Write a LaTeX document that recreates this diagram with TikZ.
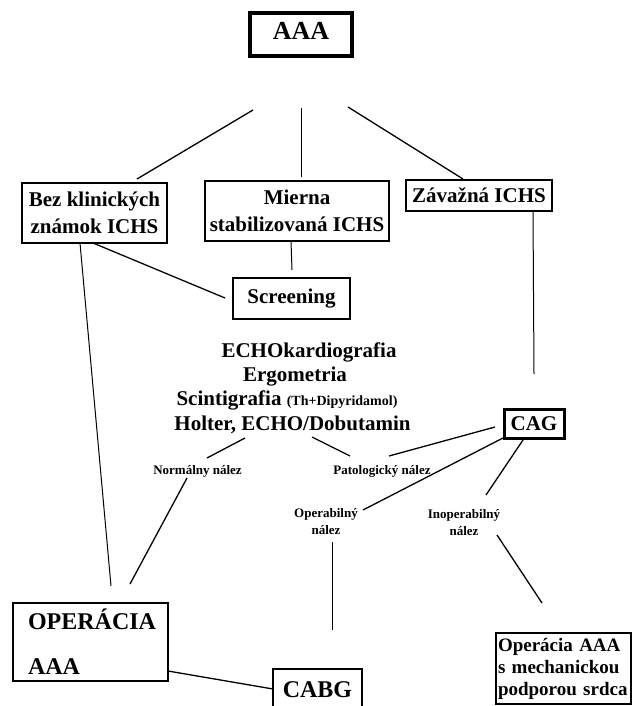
\documentclass[tikz,border=0pt]{standalone}
\usepackage{fontspec}
\setmainfont{Liberation Serif}
\begin{document}
\begin{tikzpicture}[x=1pt,y=-1pt,
  box/.style={draw, rectangle, line width=2pt, inner sep=0pt, align=center},
  big/.style={font=\bfseries\fontsize{21}{27.5}\selectfont},
  small/.style={font=\bfseries\fontsize{13}{17}\selectfont},
  conn/.style={line width=1.3pt},
  thinconn/.style={line width=1pt}]
\useasboundingbox (0,0) rectangle (633,706);
\clip (0,0) rectangle (633,706);
\fill[white] (0,0) rectangle (633,706);

% boxes
\node[box, line width=4pt, minimum width=102, minimum height=43, text depth=7pt,
      font=\bfseries\fontsize{26}{30}\selectfont] (aaa) at (301,34.5) {AAA};
\node[box, line width=2.5pt, minimum width=145, minimum height=60, big] (bez) at (94.5,213) {Bez klinických\\známok ICHS};
\node[box, minimum width=184, minimum height=60, big] (mierna) at (297,211) {Mierna\\stabilizovaná ICHS};
\node[box, line width=2.5pt, minimum width=146, minimum height=31, big] (zav) at (479,195.5) {Závažná ICHS};
\node[box, minimum width=117, minimum height=41, big] (scr) at (291.5,298.5) {Screening};
\node[box, line width=3pt, minimum width=60, minimum height=29, big] (cag) at (534,423.5) {CAG};
\node[box, line width=2.5pt, minimum width=155, minimum height=78, text width=125, align=left,
      font=\bfseries\fontsize{24}{45}\selectfont] (op) at (90.5,642) {OPERÁCIA\\AAA};
\node[box, line width=2.5pt, minimum width=89, minimum height=42,
      font=\bfseries\fontsize{24}{28}\selectfont] (cabg) at (317.5,690) {CABG};
\node[box, minimum width=135, minimum height=71, text width=131, align=left,
      font=\bfseries\fontsize{19}{22}\selectfont] (opm) at (563.5,668.5) {Operácia AAA\\s mechanickou\\podporou srdca};

% examination list
\node[big, anchor=base, inner sep=0pt] (e1) at (309,357) {ECHOkardiografia};
\node[big, anchor=base, inner sep=0pt] (e2) at (295,381) {Ergometria};
\node[big, anchor=base, inner sep=0pt] (e3) at (287,405) {Scintigrafia {\fontsize{14}{16}\selectfont (Th+Dipyridamol)}};
\node[big, anchor=base, inner sep=0pt] (e4) at (292.5,430) {Holter, ECHO/Dobutamin};

% small labels
\node[small, anchor=base, inner sep=0pt] (norm) at (197.5,474.5) {Normálny nález};
\node[small, anchor=base, inner sep=0pt] (pat) at (382,474.5) {Patologický nález};
\node[small, align=center, inner sep=0pt] (oper) at (326,522) {Operabilný\\nález};
\node[small, align=center, inner sep=0pt] (inop) at (464,523) {Inoperabilný\\nález};

% connector end points
\coordinate (aaaL) at (253,110);
\coordinate (bezT) at (137,179);
\coordinate (aaaM) at (301,108);
\coordinate (mierT) at (301,177);
\coordinate (aaaR) at (348,107);
\coordinate (zavT) at (463,179);
\coordinate (bezB1) at (93,243);
\coordinate (scrL) at (225,298);
\coordinate (bezB2) at (80,243);
\coordinate (opT1) at (111,586);
\coordinate (mierB) at (291,241);
\coordinate (scrT) at (292,270);
\coordinate (zavB) at (533,211);
\coordinate (cagT) at (534,374);
\coordinate (e4L) at (245,438);
\coordinate (normT) at (207,458);
\coordinate (e4R) at (312,437);
\coordinate (patT) at (350,456);
\coordinate (cagL1) at (495,427);
\coordinate (patR) at (389,456);
\coordinate (cagL2) at (503,438);
\coordinate (operR) at (363,510);
\coordinate (cagB) at (523,440);
\coordinate (inopT) at (486,495);
\coordinate (normB) at (187,478);
\coordinate (opT2) at (130,584);
\coordinate (operB) at (332,542);
\coordinate (cabgT) at (332,630);
\coordinate (inopB) at (497,535);
\coordinate (opmT) at (542,603);
\coordinate (opR) at (168,671);
\coordinate (cabgL) at (273,689);

% connectors
\draw[conn] (aaaL) -- (bezT);
\draw[thinconn] (aaaM) -- (mierT);
\draw[conn] (aaaR) -- (zavT);
\draw[conn] (bezB1) -- (scrL);
\draw[thinconn] (bezB2) -- (opT1);
\draw[thinconn] (mierB) -- (scrT);
\draw[thinconn] (zavB) -- (cagT);
\draw[conn] (e4L) -- (normT);
\draw[conn] (e4R) -- (patT);
\draw[conn] (cagL1) -- (patR);
\draw[conn] (cagL2) -- (operR);
\draw[conn] (cagB) -- (inopT);
\draw[conn] (normB) -- (opT2);
\draw[thinconn] (operB) -- (cabgT);
\draw[conn] (inopB) -- (opmT);
\draw[conn] (opR) -- (cabgL);
\end{tikzpicture}
\end{document}
